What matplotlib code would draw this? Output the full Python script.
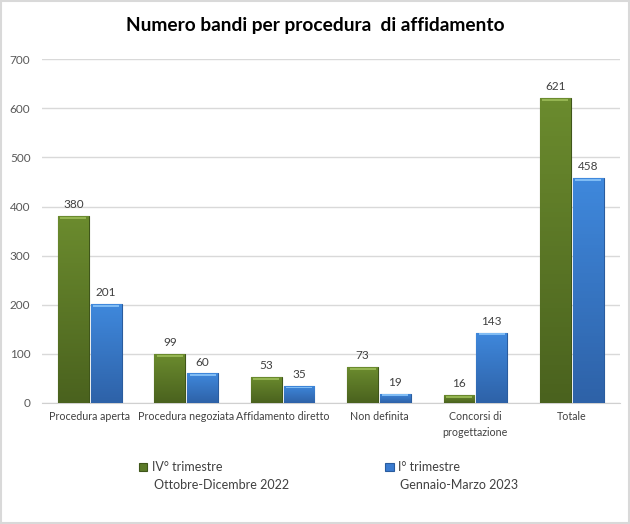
import numpy as np
import matplotlib
matplotlib.use('Agg')
from matplotlib import pyplot as plt
from matplotlib.colors import LinearSegmentedColormap
from matplotlib.patches import Rectangle

categories = ['Procedura aperta', 'Procedura negoziata', 'Affidamento diretto',
              'Non definita', 'Concorsi di\nprogettazione', 'Totale']
q4_2022 = [380, 99, 53, 73, 16, 621]
q1_2023 = [201, 60, 35, 19, 143, 458]
series_names = ['IV° trimestre', 'I° trimestre']
series_periods = ['Ottobre-Dicembre 2022', 'Gennaio-Marzo 2023']

plt.rcParams['font.family'] = ['Lato', 'DejaVu Sans']

fig = plt.figure(figsize=(6.3, 5.24), dpi=100)
ax = fig.add_axes([0.066, 0.231, 0.918, 0.656])

x = np.arange(len(categories))
w = 0.32
b1 = ax.bar(x - 0.17, q4_2022, w, color='#5b7a28', edgecolor='#3f561a', linewidth=0.8, zorder=3,
            label=series_names[0])
b2 = ax.bar(x + 0.17, q1_2023, w, color='#3a7bd0', edgecolor='#2a5c9e', linewidth=0.8, zorder=3,
            label=series_names[1])

# vertical gradient + light top bevel on each bar
green_cm = LinearSegmentedColormap.from_list('g', ['#4a621e', '#6b8b2e'])
blue_cm = LinearSegmentedColormap.from_list('b', ['#2e62a8', '#3f88dc'])
grad = np.linspace(0, 1, 64).reshape(-1, 1)
for bars, cm, top in [(b1, green_cm, '#95b552'), (b2, blue_cm, '#80bcf4')]:
    for p in bars:
        x0, y0, bw, bh = p.get_x(), p.get_y(), p.get_width(), p.get_height()
        im = ax.imshow(grad, cmap=cm, aspect='auto', origin='lower',
                       extent=(x0, x0 + bw, y0, y0 + bh), zorder=3.5)
        im.set_clip_path(p)
        ax.add_patch(Rectangle((x0 + bw * 0.08, y0 + bh - 5.5), bw * 0.84, 4, color=top,
                               zorder=4, linewidth=0))
    for p in bars:
        ax.text(p.get_x() + p.get_width() / 2, p.get_height() + 12, str(int(p.get_height())),
                ha='center', va='bottom', fontsize=8.5, color='#404040')

ax.set_xlim(-0.5, len(categories) - 0.5)
ax.set_ylim(0, 700)
ax.set_yticks(range(0, 701, 100))
ax.set_xticks(x)
ax.set_xticklabels(categories, fontsize=7.7, color='#404040', linespacing=1.55)
ax.tick_params(axis='y', labelsize=8.5, labelcolor='#595959', length=0, pad=8)
ax.tick_params(axis='x', length=0, pad=6)
ax.grid(axis='y', color='#d9d9d9', linewidth=1, zorder=0)
for s in ['top', 'right', 'left']:
    ax.spines[s].set_visible(False)
ax.spines['bottom'].set_color('#d0d0d0')

fig.text(0.5, 0.952, 'Numero bandi per procedura  di affidamento', ha='center', va='center',
         fontsize=13.8, fontweight='bold', color='black')

leg = fig.legend(handles=[b1, b2], loc='center', bbox_to_anchor=(0.475, 0.108), ncol=2,
                 frameon=False, fontsize=9, handlelength=0.7, handleheight=0.7,
                 columnspacing=13, handletextpad=0.35)
for t in leg.get_texts():
    t.set_color('#404040')

# second line of each legend entry, aligned under the first
fig.canvas.draw()
inv = fig.transFigure.inverted()
for t, period in zip(leg.get_texts(), series_periods):
    bb = t.get_window_extent()
    x0, y0 = inv.transform((bb.x0, bb.y0))
    fig.text(x0 + 0.004, y0 - 0.01, period, ha='left', va='top', fontsize=9, color='#404040')

fig.add_artist(Rectangle((0.002, 0.002), 0.996, 0.996, transform=fig.transFigure, fill=False,
                         edgecolor='#d9d9d9', linewidth=1.5))

fig.savefig('out.png', dpi=100)
